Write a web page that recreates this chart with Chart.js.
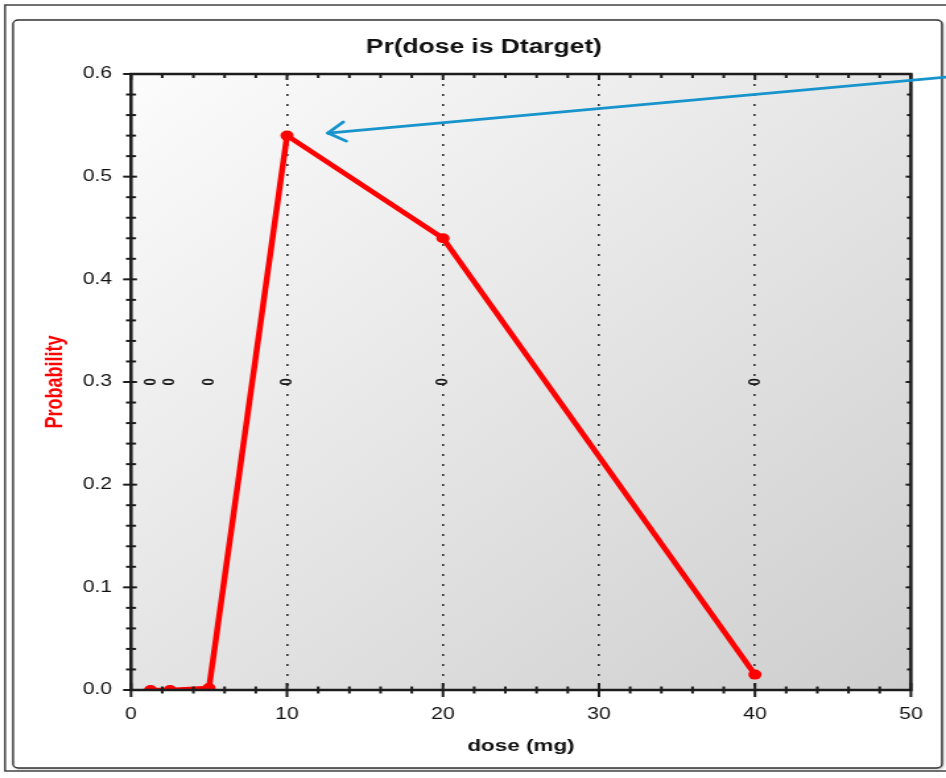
<!DOCTYPE html>
<html>
<head>
<meta charset="utf-8">
<script src="https://cdn.jsdelivr.net/npm/chart.js@4.4.1/dist/chart.umd.min.js"></script>
<style>
  html, body { margin: 0; padding: 0; background: #fff; overflow: hidden; }
  /* the reference picture is stretched sideways, so the canvas is too */
  #wrap { width: 717px; height: 778px; transform: scale(1.3194, 1); transform-origin: 0 0; }
</style>
</head>
<body>
<div id="wrap"><canvas id="chart" width="717" height="778"></canvas></div>
<script>
const doses = [1.25, 2.5, 5, 10, 20, 40];
const probs = [0, 0, 0.002, 0.54, 0.44, 0.015];
const doseCounts = ['0', '0', '0', '0', '0', '0'];
const countLevel = 0.3;
const xTicks = [0, 10, 20, 30, 40, 50];
const yTicks = [0, 0.1, 0.2, 0.3, 0.4, 0.5, 0.6];
const xMinorPerMajor = 5;
const yMinorPerMajor = 5;
const arrowFrom = [53, 0.598];
const arrowTo = [12.63, 0.5425];

const FONT = "'Liberation Sans', Arial, sans-serif";
const ctx = document.getElementById('chart').getContext('2d');

function line(c, x1, y1, x2, y2) {
  c.beginPath();
  c.moveTo(x1, y1);
  c.lineTo(x2, y2);
  c.stroke();
}

const decor = {
  id: 'decor',
  beforeDraw(chart) {
    const c = chart.ctx;
    const a = chart.chartArea;
    c.save();
    c.fillStyle = '#fff';
    c.fillRect(0, 0, chart.width, chart.height);

    // outer frame
    c.strokeStyle = '#444';
    c.lineWidth = 1.5;
    c.strokeRect(3.8, 5, 800, 766);

    // inner rounded box with a soft shadow
    c.shadowColor = 'rgba(0,0,0,0.35)';
    c.shadowBlur = 3;
    c.shadowOffsetX = 1;
    c.shadowOffsetY = 1;
    c.fillStyle = '#fff';
    c.beginPath();
    c.roundRect(9.9, 20, 704, 748, 4);
    c.fill();
    c.shadowColor = 'transparent';
    c.strokeStyle = '#333';
    c.lineWidth = 1.4;
    c.stroke();

    // plot background
    const g = c.createLinearGradient(a.left, a.top, a.right, a.bottom);
    g.addColorStop(0, '#fcfcfc');
    g.addColorStop(1, '#cecece');
    c.fillStyle = g;
    c.fillRect(a.left, a.top, a.right - a.left, a.bottom - a.top);
    c.restore();
  },
  afterDraw(chart) {
    const c = chart.ctx;
    const a = chart.chartArea;
    const xs = chart.scales.x;
    const ys = chart.scales.y;
    c.save();
    c.strokeStyle = '#1c1c1c';
    c.lineWidth = 2;

    // y ticks: left crossing the axis, right pointing inside
    for (let i = 0; i < yTicks.length; i++) {
      const py = ys.getPixelForValue(yTicks[i]);
      line(c, a.left - 6, py, a.left + 4.5, py);
      line(c, a.right - 4, py, a.right, py);
      if (i < yTicks.length - 1) {
        const step = (yTicks[i + 1] - yTicks[i]) / yMinorPerMajor;
        for (let k = 1; k < yMinorPerMajor; k++) {
          const my = ys.getPixelForValue(yTicks[i] + k * step);
          line(c, a.left - 3.8, my, a.left + 3.8, my);
          line(c, a.right - 3, my, a.right, my);
        }
      }
    }
    // x ticks: bottom crossing the axis, top pointing inside
    for (let i = 0; i < xTicks.length; i++) {
      const px = xs.getPixelForValue(xTicks[i]);
      line(c, px, a.bottom - 7, px, a.bottom + 7);
      line(c, px, a.top, px, a.top + 6);
      if (i < xTicks.length - 1) {
        const step = (xTicks[i + 1] - xTicks[i]) / xMinorPerMajor;
        for (let k = 1; k < xMinorPerMajor; k++) {
          const mx = xs.getPixelForValue(xTicks[i] + k * step);
          line(c, mx, a.bottom - 3.5, mx, a.bottom + 3.5);
          line(c, mx, a.top, mx, a.top + 4);
        }
      }
    }

    // axis box
    c.lineWidth = 2.5;
    c.strokeRect(a.left, a.top, a.right - a.left, a.bottom - a.top);

    // counts at each dose
    c.fillStyle = '#1a1a1a';
    c.font = 'bold 13px ' + FONT;
    c.textAlign = 'center';
    c.textBaseline = 'middle';
    const cy = ys.getPixelForValue(countLevel);
    doses.forEach((d, i) => {
      c.save();
      c.translate(xs.getPixelForValue(d), cy);
      c.rotate(-Math.PI / 2);
      c.fillText(doseCounts[i], 0, 0);
      c.restore();
    });

    // arrow pointing at the peak
    const x1 = xs.getPixelForValue(arrowFrom[0]);
    const y1 = ys.getPixelForValue(arrowFrom[1]);
    const x2 = xs.getPixelForValue(arrowTo[0]);
    const y2 = ys.getPixelForValue(arrowTo[1]);
    c.strokeStyle = '#1794cc';
    c.lineWidth = 2.8;
    c.lineCap = 'round';
    line(c, x1, y1, x2, y2);
    const ang = Math.atan2(y1 - y2, x1 - x2);
    const wing = 0.65, len = 16;
    line(c, x2, y2, x2 + len * Math.cos(ang - wing), y2 + len * Math.sin(ang - wing));
    line(c, x2, y2, x2 + len * Math.cos(ang + wing), y2 + len * Math.sin(ang + wing));

    // title
    c.fillStyle = '#111';
    c.font = 'bold 20px ' + FONT;
    c.textAlign = 'center';
    c.textBaseline = 'middle';
    c.fillText('Pr(dose is Dtarget)', 366.8, 47);
    c.restore();
  }
};

new Chart(ctx, {
  type: 'line',
  data: {
    datasets: [{
      data: doses.map((d, i) => ({ x: d, y: probs[i] })),
      borderColor: '#ff0000',
      backgroundColor: '#ff0000',
      borderWidth: 4.5,
      pointRadius: 5,
      pointHoverRadius: 5,
      pointBorderWidth: 0,
      tension: 0,
      clip: 0
    }]
  },
  options: {
    responsive: false,
    animation: false,
    devicePixelRatio: 1,
    events: [],
    layout: { padding: { left: 0, top: 74, right: 26.6, bottom: 0 } },
    plugins: {
      legend: { display: false },
      tooltip: { enabled: false },
      title: { display: false }
    },
    scales: {
      x: {
        type: 'linear',
        min: 0,
        max: 50,
        afterFit(s) { s.height = 88; },
        afterBuildTicks(s) { s.ticks = xTicks.map(v => ({ value: v })); },
        ticks: { padding: 15, color: '#111', maxRotation: 0, font: { family: FONT, size: 16 } },
        grid: {
          drawTicks: false,
          lineWidth: 1.6,
          color: c => (c.tick && (c.tick.value === 0 || c.tick.value === 50)) ? 'rgba(0,0,0,0)' : '#333'
        },
        border: { display: false, dash: [2, 8] },
        title: {
          display: true,
          text: 'dose (mg)',
          color: '#111',
          font: { family: FONT, size: 17, weight: 'bold' },
          padding: { top: 0, bottom: 21.8 }
        }
      },
      y: {
        min: 0,
        max: 0.6,
        afterFit(s) { s.width = 99.3; },
        afterBuildTicks(s) { s.ticks = yTicks.map(v => ({ value: v })); },
        ticks: { padding: 14.4, color: '#111', font: { family: FONT, size: 16 }, callback: v => v.toFixed(1) },
        grid: { display: false, drawTicks: false },
        border: { display: false },
        title: {
          display: true,
          text: 'Probability',
          color: '#ff0000',
          font: { family: FONT, size: 18, weight: 'bold' },
          padding: { top: 31, bottom: 0 }
        }
      }
    }
  },
  plugins: [decor]
});
</script>
</body>
</html>
